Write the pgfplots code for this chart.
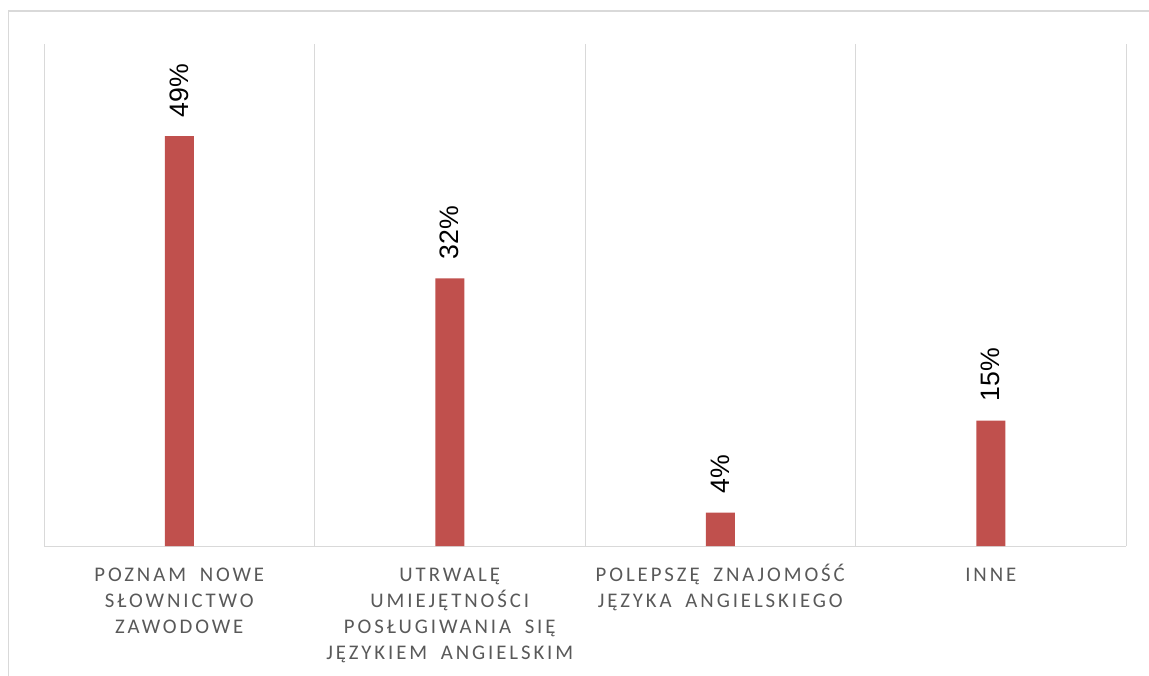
\documentclass[border=0pt]{standalone}
\usepackage{pgfplots}
\pgfplotsset{compat=1.18}
\usepackage{fontspec}
\setmainfont{Carlito}
\newfontfamily\catfont[LetterSpace=14,WordSpace=1.8]{Carlito}
\newfontfamily\valfont{Liberation Sans}
\definecolor{barred}{HTML}{C0504D}
\definecolor{gridgray}{HTML}{D9D9D9}
\definecolor{labgray}{HTML}{595959}
\newcommand\fl{\rule{0pt}{15pt}}
\begin{document}
\begin{tikzpicture}
\useasboundingbox (0,0) rectangle (861.75pt,506.25pt);
\clip (0,0) rectangle (861.75pt,506.25pt);
\draw[gridgray, line width=1pt] (6.2pt,-5pt) -- (6.2pt,498pt) -- (870pt,498pt);
\begin{axis}[
 at={(33pt,96.75pt)}, anchor=south west,
 scale only axis, width=811.5pt, height=376.5pt,
 xmin=-0.5, xmax=3.5, ymin=0, ymax=60,
 axis x line=bottom, axis y line=none,
 axis line style={-, draw=gridgray, line width=0.75pt},
 xtick={0,1,2,3},
 xticklabels={{\fl POZNAM NOWE\\SŁOWNICTWO\\ZAWODOWE},{\fl UTRWALĘ\\UMIEJĘTNOŚCI\\POSŁUGIWANIA SIĘ\\JĘZYKIEM ANGIELSKIM},{\fl POLEPSZĘ ZNAJOMOŚĆ\\JĘZYKA ANGIELSKIEGO},{\fl INNE}},
 major tick length=0pt,
 extra x ticks={-0.5,0.5,1.5,2.5,3.5},
 extra x tick labels={},
 extra x tick style={grid=major, major grid style={gridgray, line width=0.75pt}},
 xticklabel style={font=\catfont\fontsize{15.6}{19.5}\selectfont, text=labgray, align=center, anchor=north, yshift=-11.25pt, inner sep=0pt},
 ybar, bar width=21.75pt,
 nodes near coords={\pgfmathprintnumber[assume math mode=true]{\pgfplotspointmeta}\%},
 nodes near coords style={font=\valfont\fontsize{20}{24}\selectfont, rotate=90, anchor=west, inner xsep=14pt, text=black},
]
\addplot[fill=barred, draw=none] coordinates {(0,49) (1,32) (2,4) (3,15)};
\end{axis}
\end{tikzpicture}
\end{document}
